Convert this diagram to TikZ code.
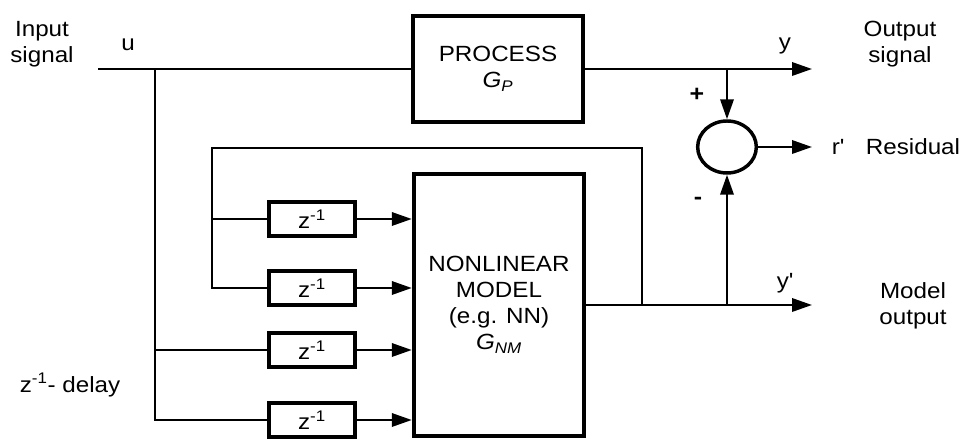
\documentclass[tikz,border=0pt]{standalone}
\usepackage{fontspec}
\setmainfont{Liberation Sans}[FakeStretch=1.1]
\usepackage{tikz}
\usetikzlibrary{arrows.meta,positioning,shapes.geometric}

\begin{document}
\begin{tikzpicture}[
    x=0.75pt, y=-0.75pt,
    font=\fontsize{16.5}{19.5}\selectfont,
    block/.style={draw, rectangle, line width=2.8pt, align=center, inner sep=0pt},
    delay/.style={draw, rectangle, line width=2.8pt, minimum width=64pt, minimum height=26pt, inner sep=0pt},
    sumnode/.style={draw, ellipse, line width=2.6pt, minimum width=44pt, minimum height=39pt, inner sep=0pt},
    txt/.style={align=center, inner sep=0pt},
    line/.style={line width=1.8pt},
    arrow/.style={line width=1.8pt, -{Triangle[length=15pt,width=10pt]}}
]
\useasboundingbox (0,0) rectangle (965,441);

\node[block, minimum width=128pt, minimum height=79pt] (proc) at (498,69) {PROCESS\\\textit{G}\textsubscript{\textit{P}}};
\node[block, minimum width=128pt, minimum height=197pt] (model) at (499,305) {NONLINEAR\\MODEL\\(e.g. NN)\\\textit{G}\textsubscript{\textit{NM}}};

\node[delay] (d1) at (312,219) {z\textsuperscript{-1}};
\node[delay] (d2) at (312,288) {z\textsuperscript{-1}};
\node[delay] (d3) at (312,350) {z\textsuperscript{-1}};
\node[delay] (d4) at (312,420) {z\textsuperscript{-1}};

\node[sumnode] (sum) at (727,147) {};

\coordinate (uin) at (98,69);
\coordinate (ubr) at (155,69);
\coordinate (yout) at (812,69);
\coordinate (ybr) at (727,69);
\coordinate (rout) at (812,147);
\coordinate (mout) at (812,305);
\coordinate (mbr) at (727,305);
\coordinate (fbbr) at (642,305);
\coordinate (fbtop) at (212,148);

% labels
\node[txt] (insig) at (42,44) {Input\\signal};
\node[txt] (ulab) at (128,45) {u};
\node[txt] (ylab) at (785,46) {y};
\node[txt] (outsig) at (900,44) {Output\\signal};
\node[txt, font=\fontsize{17}{19}\selectfont\bfseries] (plus) at (697,95) {+};
\node[txt, font=\fontsize{17}{19}\selectfont\bfseries] (minus) at (698,201) {-};
\node[txt] (rlab) at (838,147) {r\textquotesingle};
\node[txt] (reslab) at (913,147) {Residual};
\node[txt] (yplab) at (785,283) {y\textquotesingle};
\node[txt] (modout) at (913,306) {Model\\output};
\node[txt] (delaylab) at (70,385) {z\textsuperscript{-1}- delay};

% signal paths
\draw[line] (uin) -- (proc.west);
\draw[arrow] (proc.east) -- (yout);
\draw[arrow] (ybr) -- (sum.north);
\draw[arrow] (sum.east) -- (rout);
\draw[arrow] (model.east) -- (mout);
\draw[arrow] (mbr) -- (sum.south);

% feedback of model output
\draw[line] (fbbr) |- (fbtop) |- (d2.west);
\draw[line] (fbtop |- d1.west) -- (d1.west);

% input taps
\draw[line] (ubr) |- (d4.west);
\draw[line] (ubr |- d3.west) -- (d3.west);

\draw[arrow] (d1.east) -- (d1.east -| model.west);
\draw[arrow] (d2.east) -- (d2.east -| model.west);
\draw[arrow] (d3.east) -- (d3.east -| model.west);
\draw[arrow] (d4.east) -- (d4.east -| model.west);

\end{tikzpicture}
\end{document}
